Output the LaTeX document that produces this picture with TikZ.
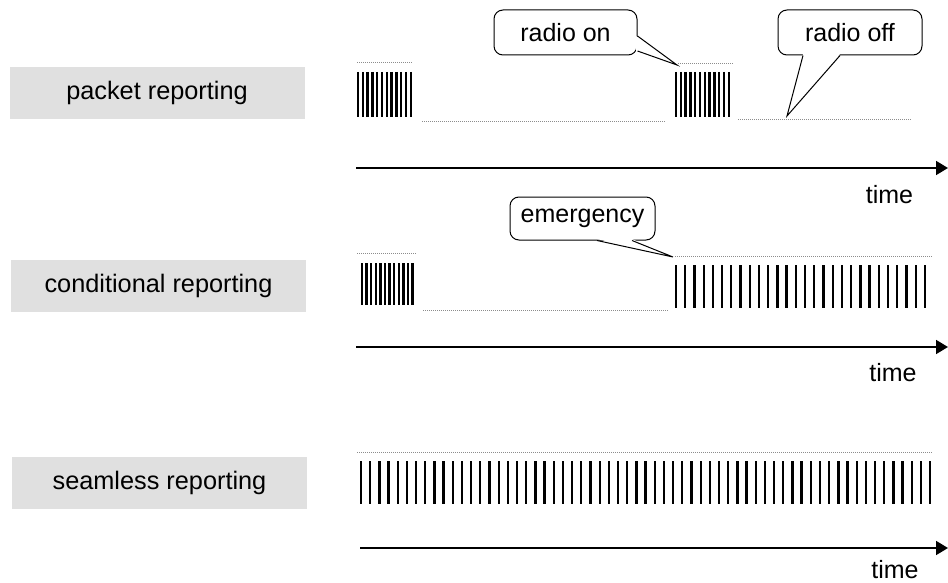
\documentclass[tikz,border=0pt]{standalone}
\usepackage{fontspec}
\setmainfont{Liberation Sans}
\usetikzlibrary{arrows.meta}
\tikzset{
  lbl/.style={fill=black!12, draw=none, minimum width=295pt, minimum height=52pt, inner sep=0pt, font=\fontsize{25.3}{28}\selectfont},
  dotln/.style={draw=black!45, line width=0.9pt, dash pattern=on 1pt off 1pt},
  bar/.style={line width=2.3pt, black},
  axis/.style={line width=1.8pt, -{Triangle[length=12pt,width=14pt]}},
  call/.style={draw, line width=1pt, fill=white, rounded corners=9pt, inner sep=0pt, font=\fontsize{25}{28}\selectfont},
  ptr/.style={line width=1pt, fill=white},
  tlbl/.style={font=\fontsize{25}{28}\selectfont, inner sep=0pt}
}
\begin{document}
\begin{tikzpicture}[x=1pt,y=-1pt]
\useasboundingbox (0,0) rectangle (948,583);
% labels
\node[lbl] (l1) at (157,93) {packet reporting};
\node[lbl] (l2) at (158.5,285.5) {conditional reporting};
\node[lbl] (l3) at (159.5,482.5) {seamless reporting};

% ---- packet reporting row
\draw[dotln] (357,62) -- (413,62);
\foreach \i in {0,...,11} \draw[bar] (358+\i*4.8,72) -- (358+\i*4.8,117);
\draw[dotln] (422,121) -- (665,121);
\draw[dotln] (678,63) -- (733,63);
\foreach \i in {0,...,11} \draw[bar] (676+\i*4.8,72) -- (676+\i*4.8,117);
\draw[dotln] (738,119) -- (912,119);

% callouts row 1
\node[call, minimum width=143pt, minimum height=45pt] (c1) at (565.5,32.5) {radio on};
\coordinate (t1) at (677,65);
\path[ptr] (636,36) -- (t1) -- (636,51) -- cycle;
\draw[line width=1pt] (c1.east |- 0,36) -- (t1) -- (c1.east |- 0,51);

\node[call, minimum width=144pt, minimum height=45pt] (c2) at (850,32.5) {radio off};
\coordinate (t2) at (787,116);
\path[ptr] (803,54) -- (t2) -- (840,54) -- cycle;
\draw[line width=1pt] (803,0 |- c2.south) -- (t2) -- (840,0 |- c2.south);

% axis 1
\coordinate (a1s) at (356,168);
\coordinate (a1e) at (948,168);
\draw[axis] (a1s) -- (a1e);
\node[tlbl] (tm1) at (889.5,195) {time};

% ---- conditional row
\draw[dotln] (357,253) -- (417,253);
\foreach \i in {0,...,11} \draw[bar] (362+\i*4.6,263) -- (362+\i*4.6,305);
\draw[dotln] (423,310) -- (668,310);
\draw[dotln] (675,256) -- (932,256);
\foreach \i in {0,...,27} \draw[bar] (676+\i*9.22,265) -- (676+\i*9.22,308);

\node[call, minimum width=145pt, minimum height=43pt] (c3) at (582.5,218.5) {emergency};
\coordinate (t3) at (673,257);
\path[ptr] (597,239) -- (t3) -- (632,239) -- cycle;
\draw[line width=1pt] (597,0 |- c3.south) -- (t3) -- (632,0 |- c3.south);

\coordinate (a2s) at (356,347);
\coordinate (a2e) at (948,347);
\draw[axis] (a2s) -- (a2e);
\node[tlbl] (tm2) at (893,373) {time};

% ---- seamless row
\draw[dotln] (357,452) -- (932,452);
\foreach \i in {0,...,62} \draw[bar] (361+\i*9.18,461) -- (361+\i*9.18,504);

\coordinate (a3s) at (360,548);
\coordinate (a3e) at (948,548);
\draw[axis] (a3s) -- (a3e);
\node[tlbl] (tm3) at (895,570) {time};
\end{tikzpicture}
\end{document}
